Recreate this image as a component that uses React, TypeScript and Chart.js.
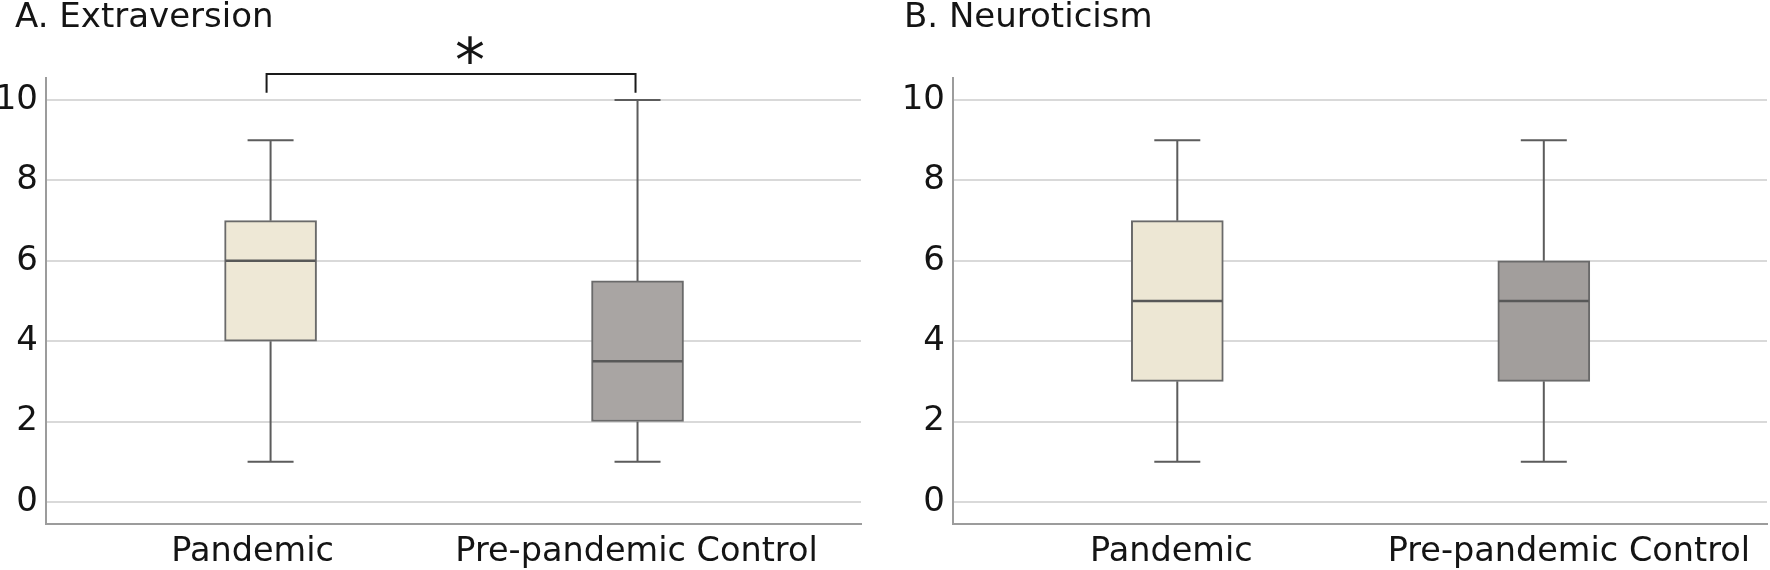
import React, { useEffect, useRef } from "react";
import { Chart, registerables } from "chart.js";

Chart.register(...registerables);

// ---------------- data ----------------
const categories = ["Pandemic", "Pre-pandemic Control"];

const extraversionMin = [1, 1];
const extraversionQ1 = [4, 2];
const extraversionMedian = [6, 3.5];
const extraversionQ3 = [7, 5.5];
const extraversionMax = [9, 10];

const neuroticismMin = [1, 1];
const neuroticismQ1 = [3, 3];
const neuroticismMedian = [5, 5];
const neuroticismQ3 = [7, 6];
const neuroticismMax = [9, 9];

const yTicks = [0, 2, 4, 6, 8, 10];
const panelTitles = ["A. Extraversion", "B. Neuroticism"];
const significanceMark = "*";
const bracketTopValue = 10.65;
const bracketBottomValue = 10.18;

// ---------------- styling ----------------
const FONT = "'DejaVu Sans', Verdana, sans-serif";
const TEXT = "#141414";

type Stats = {
  min: number[];
  q1: number[];
  median: number[];
  q3: number[];
  max: number[];
};

type PanelProps = {
  title: string;
  stats: Stats;
  fills: string[];
  canvasWidth: number;
  axisLeft: number;
  rightPad: number;
  titleX: number;
  labelShift: number[];
  bracket: boolean;
};

function Panel(props: PanelProps) {
  const ref = useRef<HTMLCanvasElement | null>(null);

  useEffect(() => {
    const canvas = ref.current;
    if (!canvas) return;
    const { stats, fills } = props;

    const boxPlugin = {
      id: "boxExtras",
      beforeDatasetsDraw(chart: any) {
        const ctx = chart.ctx;
        const xs = chart.scales.x;
        const ys = chart.scales.y;
        ctx.save();
        ctx.strokeStyle = "#5c5c5c";
        ctx.lineWidth = 2;
        categories.forEach((_, i) => {
          const cx = xs.getPixelForValue(i);
          const yMin = ys.getPixelForValue(stats.min[i]);
          const yMax = ys.getPixelForValue(stats.max[i]);
          const yQ1 = ys.getPixelForValue(stats.q1[i]);
          const yQ3 = ys.getPixelForValue(stats.q3[i]);
          ctx.beginPath();
          ctx.moveTo(cx, yMin);
          ctx.lineTo(cx, yQ1);
          ctx.moveTo(cx, yQ3);
          ctx.lineTo(cx, yMax);
          ctx.moveTo(cx - 23, yMin);
          ctx.lineTo(cx + 23, yMin);
          ctx.moveTo(cx - 23, yMax);
          ctx.lineTo(cx + 23, yMax);
          ctx.stroke();
        });
        ctx.restore();
      },
      afterDatasetsDraw(chart: any) {
        const ctx = chart.ctx;
        const xs = chart.scales.x;
        const ys = chart.scales.y;
        ctx.save();
        ctx.strokeStyle = "#585858";
        ctx.lineWidth = 2.5;
        categories.forEach((_, i) => {
          const cx = xs.getPixelForValue(i);
          const ym = ys.getPixelForValue(stats.median[i]);
          ctx.beginPath();
          ctx.moveTo(cx - 45, ym);
          ctx.lineTo(cx + 45, ym);
          ctx.stroke();
        });
        ctx.restore();
      },
      afterDraw(chart: any) {
        const ctx = chart.ctx;
        const xs = chart.scales.x;
        const ys = chart.scales.y;
        ctx.save();
        // title
        ctx.fillStyle = TEXT;
        ctx.font = `34px ${FONT}`;
        ctx.textAlign = "left";
        ctx.textBaseline = "alphabetic";
        ctx.fillText(props.title, props.titleX, 27);
        // category labels
        ctx.font = `33.5px ${FONT}`;
        ctx.textAlign = "center";
        categories.forEach((c, i) => {
          ctx.fillText(c, xs.getPixelForValue(i) + props.labelShift[i], 561);
        });
        // significance bracket
        if (props.bracket) {
          const x0 = xs.getPixelForValue(0) - 4;
          const x1 = xs.getPixelForValue(1) - 2;
          const yT = ys.getPixelForValue(bracketTopValue);
          const yB = ys.getPixelForValue(bracketBottomValue);
          ctx.strokeStyle = "#1a1a1a";
          ctx.lineWidth = 2;
          ctx.beginPath();
          ctx.moveTo(x0, yB);
          ctx.lineTo(x0, yT);
          ctx.lineTo(x1, yT);
          ctx.lineTo(x1, yB);
          ctx.stroke();
          ctx.font = `60px ${FONT}`;
          ctx.textAlign = "center";
          ctx.fillText(significanceMark, (x0 + x1) / 2 + 19, 81);
        }
        ctx.restore();
      },
    };

    const chart = new Chart(canvas, {
      type: "bar",
      data: {
        datasets: [
          {
            data: categories.map((_, i) => ({ x: i, y: [stats.q1[i], stats.q3[i]] })) as any,
            backgroundColor: fills,
            borderColor: "#6a6a6a",
            borderWidth: 2,
            borderSkipped: false,
            barThickness: 92,
          },
        ],
      },
      options: {
        responsive: false,
        maintainAspectRatio: false,
        animation: false,
        events: [],
        layout: { padding: { left: 0, right: props.rightPad, top: 78, bottom: 0 } },
        plugins: {
          legend: { display: false },
          tooltip: { enabled: false },
          title: { display: false },
        },
        scales: {
          x: {
            type: "linear",
            min: -0.612,
            max: 1.609,
            offset: false,
            grid: { display: false, drawTicks: false },
            border: { display: true, color: "#9c9c9c", width: 2 },
            ticks: { display: false },
            afterBuildTicks: (s: any) => {
              s.ticks = categories.map((_, i) => ({ value: i }));
            },
            afterFit: (s: any) => {
              s.height = 46;
            },
          },
          y: {
            type: "linear",
            min: -0.55,
            max: 10.55,
            afterBuildTicks: (s: any) => {
              s.ticks = yTicks.map((v) => ({ value: v }));
            },
            grid: { color: "#d9d9d9", lineWidth: 2, drawTicks: false },
            border: { display: true, color: "#9c9c9c", width: 2 },
            ticks: {
              font: { family: FONT, size: 34 },
              color: TEXT,
              padding: 8,
            },
            afterFit: (s: any) => {
              s.width = props.axisLeft;
            },
          },
        } as any,
      },
      plugins: [boxPlugin],
    });
    return () => chart.destroy();
  }, []);

  return (
    <canvas
      ref={ref}
      width={props.canvasWidth}
      height={570}
      style={{ display: "block", width: props.canvasWidth, height: 570 }}
    />
  );
}

export default function App() {
  return (
    <div
      style={{
        position: "absolute",
        left: 0,
        top: 0,
        width: 1770,
        height: 570,
        background: "#ffffff",
        display: "flex",
      }}
    >
      <Panel
        title={panelTitles[0]}
        stats={{
          min: extraversionMin,
          q1: extraversionQ1,
          median: extraversionMedian,
          q3: extraversionQ3,
          max: extraversionMax,
        }}
        fills={["#EEE8D6", "#A9A5A3"]}
        canvasWidth={885}
        axisLeft={46}
        rightPad={24}
        titleX={15}
        labelShift={[-18, -1]}
        bracket={true}
      />
      <Panel
        title={panelTitles[1]}
        stats={{
          min: neuroticismMin,
          q1: neuroticismQ1,
          median: neuroticismMedian,
          q3: neuroticismQ3,
          max: neuroticismMax,
        }}
        fills={["#EDE7D4", "#A29E9C"]}
        canvasWidth={885}
        axisLeft={68}
        rightPad={3}
        titleX={19}
        labelShift={[-6, 25]}
        bracket={false}
      />
    </div>
  );
}
